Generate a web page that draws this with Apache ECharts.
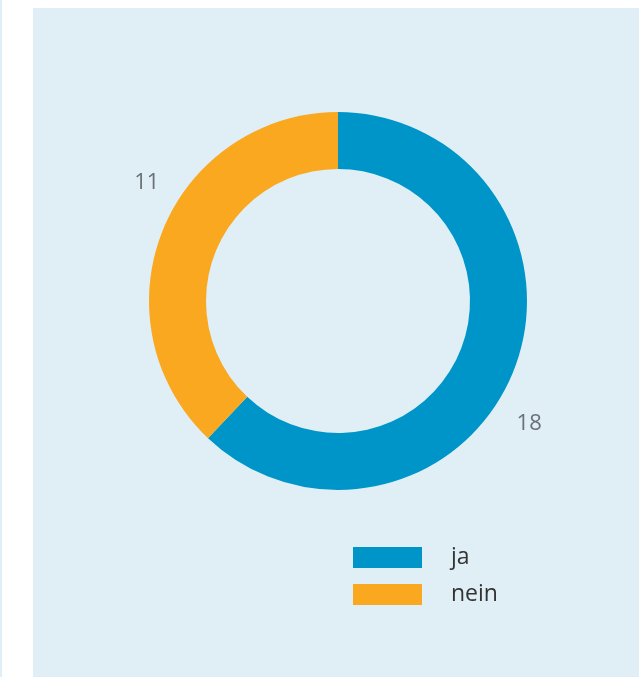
<!DOCTYPE html>
<html>
<head>
<meta charset="utf-8">
<script src="https://cdn.jsdelivr.net/npm/echarts@6/dist/echarts.min.js"></script>
<style>
  html, body { margin: 0; padding: 0; background: #fff; }
  #chart { width: 639px; height: 677px; }
</style>
</head>
<body>
<div id="chart"></div>
<script>
var categories = ['ja', 'nein'];
var values = [18, 11];
var colors = ['#0095c8', '#f9a81f'];

var myChart = echarts.init(document.getElementById('chart'));

var cx = 338, cy = 301;
var total = 0;
for (var k = 0; k < values.length; k++) total += values[k];

var pieData = [];
for (var i = 0; i < categories.length; i++) {
    pieData.push({ name: categories[i], value: values[i], itemStyle: { color: colors[i] } });
}

// Beschriftung etwas gedreht ausserhalb des Rings
function labelPos(idx) {
    var before = 0;
    for (var j = 0; j < idx; j++) before += values[j];
    var mid = (before + values[idx] / 2) / total * 360 + 10.5;
    var rad = mid * Math.PI / 180;
    var r = 226;
    return { x: cx + r * Math.sin(rad), y: cy - r * Math.cos(rad) + 2 };
}

var option = {
    backgroundColor: '#ffffff',
    textStyle: { fontFamily: 'Open Sans' },
    graphic: [
        { type: 'rect', left: 33, top: 8, shape: { width: 606, height: 669 }, style: { fill: '#e0eff6' }, silent: true, z: -10 },
        { type: 'rect', left: 0, top: 0, shape: { width: 2, height: 677 }, style: { fill: '#e0eff6' }, silent: true, z: -10 }
    ],
    legend: {
        orient: 'vertical',
        left: 348,
        top: 541,
        itemWidth: 69,
        itemHeight: 21,
        itemGap: 14,
        icon: 'rect',
        selectedMode: false,
        textStyle: { fontSize: 23, lineHeight: 21, color: '#333', padding: [2, 0, 0, 24], fontFamily: 'Open Sans' },
        data: categories
    },
    series: [
        {
            type: 'pie',
            center: [cx, cy],
            radius: [132, 189],
            startAngle: 90,
            clockwise: true,
            avoidLabelOverlap: false,
            silent: true,
            label: {
                show: true,
                position: 'outside',
                formatter: '{c}',
                fontSize: 22,
                color: '#6b7075',
                fontFamily: 'Open Sans'
            },
            labelLine: { show: false },
            labelLayout: function (params) {
                var p = labelPos(params.dataIndex);
                return { x: p.x, y: p.y, align: 'center', verticalAlign: 'middle' };
            },
            data: pieData
        }
    ]
};

myChart.setOption(option);
</script>
</body>
</html>
